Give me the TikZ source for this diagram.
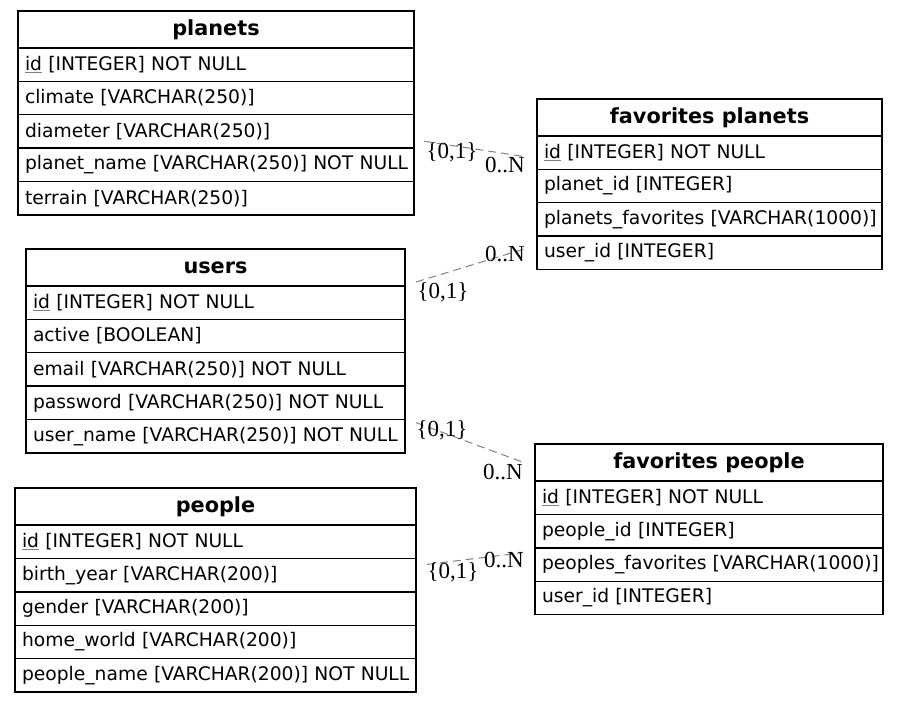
\documentclass[tikz,border=0pt]{standalone}
\usepackage{fontspec}
\setmainfont{DejaVu Sans}
\newfontfamily\cardfont{Liberation Serif}
\usetikzlibrary{positioning}

\newcommand{\pkey}[1]{{\color{gray}\underline{\color{black}#1}}}

\begin{document}
\begin{tikzpicture}[x=1pt, y=-1pt,
	tabhead/.style={draw, line width=1.4pt, outer sep=0pt, inner sep=0pt, minimum height=37pt,
		font=\fontsize{20.8}{23}\selectfont\bfseries},
	tabrow/.style={draw, line width=1.4pt, outer sep=0pt, inner xsep=7pt, inner ysep=0pt,
		minimum height=33.4pt, align=left, font=\fontsize{18.7}{21}\selectfont},
	rel/.style={gray, line width=1pt, dash pattern=on 8pt off 5pt},
	card/.style={inner sep=0pt, text=black, font=\cardfont\fontsize{23}{24}\selectfont}]
	\useasboundingbox (0,0) rectangle (900,703);

	% planets
	\node[tabhead, minimum width=396pt, anchor=north west] (planets-0) at (18,11) {planets};
	\foreach \txt [count=\i, remember=\i as \j (initially 0)] in {{\pkey{id} [INTEGER] NOT NULL},
		climate [VARCHAR(250)], diameter [VARCHAR(250)], planet\_name [VARCHAR(250)] NOT NULL,
		terrain [VARCHAR(250)]}
		\node[tabrow, text width=382pt, below=0pt of planets-\j] (planets-\i) {\mbox{\txt}};

	% users
	\node[tabhead, minimum width=379pt, anchor=north west] (users-0) at (26,249) {users};
	\foreach \txt [count=\i, remember=\i as \j (initially 0)] in {{\pkey{id} [INTEGER] NOT NULL},
		active [BOOLEAN], email [VARCHAR(250)] NOT NULL, password [VARCHAR(250)] NOT NULL,
		user\_name [VARCHAR(250)] NOT NULL}
		\node[tabrow, text width=365pt, below=0pt of users-\j] (users-\i) {\mbox{\txt}};

	% people
	\node[tabhead, minimum width=401pt, anchor=north west] (people-0) at (15,488) {people};
	\foreach \txt [count=\i, remember=\i as \j (initially 0)] in {{\pkey{id} [INTEGER] NOT NULL},
		birth\_year [VARCHAR(200)], gender [VARCHAR(200)], home\_world [VARCHAR(200)],
		people\_name [VARCHAR(200)] NOT NULL}
		\node[tabrow, text width=387pt, below=0pt of people-\j] (people-\i) {\mbox{\txt}};

	% favorites planets
	\node[tabhead, minimum width=345pt, anchor=north west] (favplanets-0) at (537,99) {favorites planets};
	\foreach \txt [count=\i, remember=\i as \j (initially 0)] in {{\pkey{id} [INTEGER] NOT NULL},
		planet\_id [INTEGER], planets\_favorites [VARCHAR(1000)], user\_id [INTEGER]}
		\node[tabrow, text width=331pt, below=0pt of favplanets-\j] (favplanets-\i) {\mbox{\txt}};

	% favorites people
	\node[tabhead, minimum width=348pt, anchor=north west] (favpeople-0) at (535,444) {favorites people};
	\foreach \txt [count=\i, remember=\i as \j (initially 0)] in {{\pkey{id} [INTEGER] NOT NULL},
		people\_id [INTEGER], peoples\_favorites [VARCHAR(1000)], user\_id [INTEGER]}
		\node[tabrow, text width=334pt, below=0pt of favpeople-\j] (favpeople-\i) {\mbox{\txt}};

	% relations
	\draw[rel] ([shift={(10,-7)}]planets-4.north east) -- ([shift={(-10,21)}]favplanets-0.south west)
		node[card, at start, xshift=28pt, yshift=-11pt] (plone) {\{0,1\}}
		node[card, at end, xshift=-22pt, yshift=-8pt] (plmany) {0..N};
	\draw[rel] ([shift={(11,-4)}]users-0.south east) -- ([shift={(-10,12)}]favplanets-4.north west)
		node[card, at start, xshift=27pt, yshift=-10pt] (uplone) {\{0,1\}}
		node[card, at end, xshift=-22pt, yshift=-6pt] (uplmany) {0..N};
	\draw[rel] ([shift={(11,3)}]users-5.north east) -- ([shift={(-10,19)}]favpeople-0.north west)
		node[card, at start, xshift=26pt, yshift=-8pt] (upeone) {\{0,1\}}
		node[card, at end, xshift=-22pt, yshift=-9pt] (upemany) {0..N};
	\draw[rel] ([shift={(11,6)}]people-2.north east) -- ([shift={(-13,5)}]favpeople-3.north west)
		node[card, at start, xshift=26pt, yshift=-8pt] (peone) {\{0,1\}}
		node[card, at end, xshift=-18pt, yshift=-7pt] (pemany) {0..N};
\end{tikzpicture}
\end{document}
